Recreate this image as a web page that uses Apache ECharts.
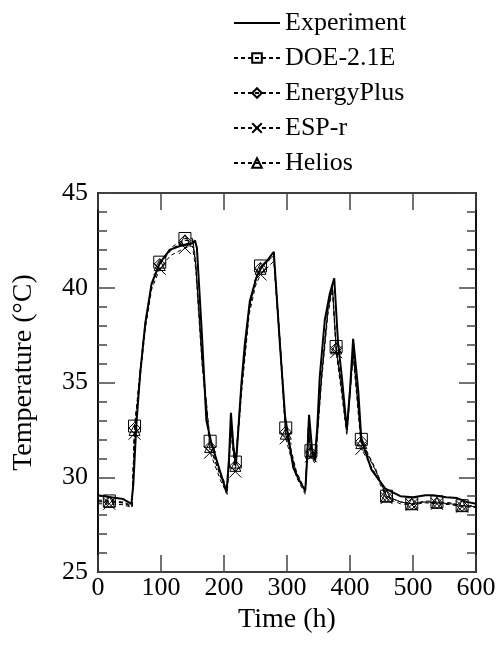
<!DOCTYPE html>
<html>
<head>
<meta charset="utf-8">
<script src="https://cdn.jsdelivr.net/npm/echarts@6/dist/echarts.min.js"></script>
<style>
  html, body { margin: 0; padding: 0; background: #fff; }
  #chart { width: 502px; height: 646px; }
</style>
</head>
<body>
<div id="chart"></div>
<script>
// measured experiment (hours, degC)
var expT = [0, 20, 40, 53, 56, 61, 67, 75, 85, 98, 114, 130, 141, 151, 154, 157, 165, 172, 180, 192, 204, 208, 211, 215, 219, 228, 233, 241, 252, 260, 270, 279, 281, 289, 297, 310, 320, 329, 332, 335, 340, 344, 348, 352, 360, 368, 375, 381, 387, 395, 400, 405, 411, 413, 418, 434, 456, 480, 500, 520, 532, 553, 570, 585, 600];
var expV = [29.05, 28.95, 28.85, 28.6, 29.6, 32.85, 35.5, 38.1, 40.2, 41.3, 42.0, 42.2, 42.3, 42.35, 42.5, 42.1, 37.5, 33.0, 31.8, 30.5, 29.2, 31.0, 33.4, 31.6, 30.7, 35.1, 37.0, 39.3, 40.6, 41.1, 41.5, 41.9, 41.8, 36.9, 33.2, 30.5, 29.8, 29.3, 31.0, 33.3, 31.4, 30.9, 32.6, 35.3, 38.3, 39.7, 40.5, 37.1, 35.3, 32.5, 34.6, 37.3, 35.3, 34.6, 32.0, 30.4, 29.4, 29.0, 28.95, 29.05, 29.05, 28.95, 28.9, 28.7, 28.6];

// simulation results share one time base
var simT = [0, 18, 40, 54, 58, 62, 68, 75, 85, 98, 115, 138, 150, 155, 165, 178, 195, 205, 211, 218, 228, 240, 250, 258, 270, 279, 283, 290, 298, 315, 329, 334, 338, 345, 355, 365, 372, 378, 386, 395, 405, 418, 440, 458, 480, 498, 520, 538, 560, 578, 600];
var doeV = [28.8, 28.75, 28.7, 28.5, 32.7, 34.0, 36.0, 38.2, 40.2, 41.35, 42.1, 42.6, 42.6, 41.5, 36.5, 31.9, 30.2, 29.4, 32.8, 30.8, 35.0, 39.0, 40.5, 41.15, 41.5, 41.8, 40.0, 36.8, 32.6, 30.3, 29.3, 32.8, 31.4, 31.0, 35.5, 39.0, 40.2, 36.9, 35.0, 32.6, 36.8, 32.0, 30.4, 29.0, 28.7, 28.6, 28.75, 28.7, 28.65, 28.5, 28.5];
var epV = [28.75, 28.7, 28.65, 28.45, 32.6, 33.9, 35.9, 38.1, 40.1, 41.25, 42.0, 42.5, 42.5, 41.3, 36.3, 31.6, 30.0, 29.3, 32.6, 30.6, 34.8, 38.9, 40.4, 41.05, 41.4, 41.7, 39.8, 36.6, 32.4, 30.2, 29.2, 32.6, 31.3, 30.9, 35.4, 38.9, 40.1, 36.8, 34.9, 32.5, 36.7, 31.9, 30.5, 29.0, 28.7, 28.6, 28.7, 28.65, 28.6, 28.5, 28.45];
var espV = [28.6, 28.6, 28.55, 28.4, 32.3, 33.6, 35.6, 37.8, 39.9, 41.0, 41.7, 42.1, 42.2, 41.0, 36.0, 31.3, 29.8, 29.1, 32.3, 30.3, 34.5, 38.6, 40.1, 40.7, 41.1, 41.4, 39.5, 36.3, 32.05, 30.0, 29.1, 32.3, 31.1, 30.7, 35.1, 38.6, 39.9, 36.6, 34.6, 32.2, 36.4, 31.5, 30.2, 28.9, 28.6, 28.55, 28.65, 28.6, 28.55, 28.45, 28.4];
var heliosV = [28.7, 28.7, 28.65, 28.45, 32.5, 33.8, 35.8, 38.0, 40.1, 41.2, 41.95, 42.5, 42.5, 41.3, 36.3, 31.6, 30.0, 29.2, 32.6, 30.6, 34.8, 38.8, 40.4, 41.0, 41.4, 41.7, 39.8, 36.6, 32.3, 30.2, 29.2, 32.6, 31.3, 30.9, 35.3, 38.8, 40.1, 36.8, 34.8, 32.4, 36.6, 31.8, 30.4, 29.0, 28.7, 28.6, 28.7, 28.65, 28.6, 28.5, 28.45];

// hours where the simulation markers sit
var markT = [18, 58, 98, 138, 178, 218, 258, 298, 338, 378, 418, 458, 498, 538, 578];

var names = ["Experiment", "DOE-2.1E", "EnergyPlus", "ESP-r", "Helios"];

var font = "Liberation Serif";

function pairs(t, v) {
  return t.map(function (x, i) { return [x, v[i]]; });
}
function simData(t, v) {
  return t.map(function (x, i) {
    var item = { value: [x, v[i]] };
    if (markT.indexOf(x) < 0) item.symbol = "none";
    return item;
  });
}
function simSeries(name, v, symbol, size) {
  return {
    name: name,
    type: "line",
    data: simData(simT, v),
    symbol: symbol,
    symbolSize: size,
    showAllSymbol: true,
    lineStyle: { color: "#000", width: 1, type: [4, 3] },
    itemStyle: { color: "rgba(0,0,0,0)", borderColor: "#000", borderWidth: 1 },
    emphasis: { disabled: true },
    z: 2,
  };
}

// frame axis: ticks only, pointing inwards
function frameAxis(extra, tickLen) {
  return Object.assign({
    type: "value",
    axisLine: { show: true, lineStyle: { color: "#000", width: 1.5 } },
    axisTick: { show: true, inside: true, length: tickLen, lineStyle: { color: "#444", width: 1.5 } },
    axisLabel: { show: false },
    splitLine: { show: false },
  }, extra);
}

var chart = echarts.init(document.getElementById("chart"));

var option = {
  animation: false,
  backgroundColor: "#fff",
  grid: { left: 98, right: 26, top: 193, bottom: 74 },
  legend: {
    data: [
      { name: "Experiment", itemStyle: { opacity: 0 } },
      "DOE-2.1E", "EnergyPlus", "ESP-r", "Helios",
    ],
    orient: "vertical",
    left: 228,
    top: 5,
    itemWidth: 46,
    itemHeight: 12,
    itemGap: 9,
    textStyle: { fontFamily: font, fontSize: 26, color: "#000" },
  },
  xAxis: [
    frameAxis({
      min: 0, max: 600, interval: 100,
      name: "Time (h)",
      nameLocation: "middle",
      nameGap: 22,
      nameTextStyle: { fontFamily: font, fontSize: 28, color: "#000", verticalAlign: "top" },
      axisLabel: { show: true, fontFamily: font, fontSize: 26, color: "#000", margin: 3 },
    }, 17),
    frameAxis({ position: "top", min: 0, max: 600, interval: 100 }, 17),
  ],
  yAxis: [
    frameAxis({
      min: 25, max: 45, interval: 5,
      name: "Temperature (°C)",
      nameLocation: "middle",
      nameGap: 60,
      nameTextStyle: { fontFamily: font, fontSize: 28, color: "#000", padding: [0, 0, 0, 20] },
      axisLabel: { show: true, fontFamily: font, fontSize: 26, color: "#000", margin: 10 },
    }, 17),
    frameAxis({ position: "left", min: 25, max: 45, interval: 1 }, 9),
    frameAxis({ position: "right", min: 25, max: 45, interval: 5 }, 17),
    frameAxis({ position: "right", min: 25, max: 45, interval: 1 }, 9),
  ],
  series: [
    simSeries("DOE-2.1E", doeV, "rect", 12),
    simSeries("EnergyPlus", epV, "diamond", 11),
    simSeries("ESP-r", espV, "path://M0,0L10,10M10,0L0,10", 12),
    simSeries("Helios", heliosV, "triangle", 11),
    {
      name: "Experiment",
      type: "line",
      data: pairs(expT, expV),
      symbol: "none",
      lineStyle: { color: "#000", width: 2 },
      itemStyle: { color: "#000" },
      emphasis: { disabled: true },
      z: 3,
    },
  ],
};
chart.setOption(option);
</script>
</body>
</html>
